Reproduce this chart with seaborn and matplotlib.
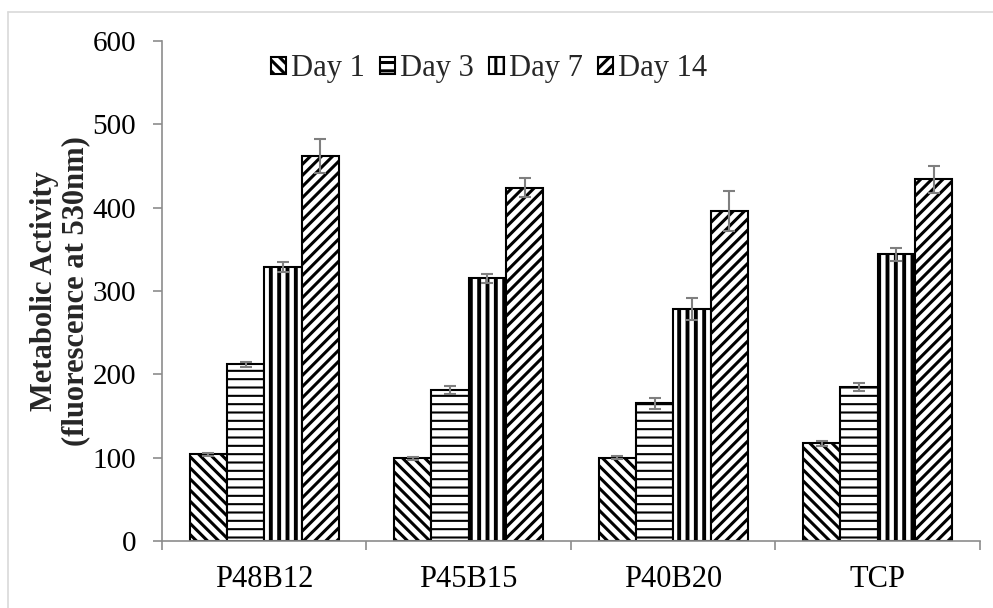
import matplotlib
matplotlib.use('Agg')
import matplotlib.pyplot as plt
from matplotlib.patches import Patch
from matplotlib.lines import Line2D
import seaborn as sns
import pandas as pd
import numpy as np

groups = ["P48B12", "P45B15", "P40B20", "TCP"]
days = ["Day 1", "Day 3", "Day 7", "Day 14"]
day1 = [104, 99, 100, 117]
day3 = [212, 181, 165, 185]
day7 = [329, 315, 278, 344]
day14 = [462, 424, 396, 434]
err1 = [2, 2, 2, 3]
err3 = [3, 5, 7, 5]
err7 = [6, 5, 13, 8]
err14 = [20, 11, 24, 16]

values = [day1, day3, day7, day14]
errors = [err1, err3, err7, err14]
hatches = ["\\\\\\", "--", "||", "///"]
hatch_lw = [2.2, 1.5, 2.8, 2.2]

df = pd.DataFrame({
    "group": [g for d in days for g in groups],
    "day": [d for d in days for g in groups],
    "value": [v for vals in values for v in vals],
})

sns.set_style("white")
plt.rcParams['font.family'] = ['Liberation Serif', 'DejaVu Serif']
plt.rcParams['hatch.linewidth'] = 2.2
plt.rcParams['hatch.color'] = 'black'

fig = plt.figure(figsize=(9.93, 6.08), dpi=100)
ax = fig.add_axes([0.1631, 0.1102, 0.8238, 0.8224])

sns.barplot(data=df, x="group", y="value", hue="day", hue_order=days,
            order=groups, errorbar=None, width=0.73, palette=["white"] * 4,
            edgecolor="black", linewidth=1.5, ax=ax, legend=False)

for container, h, lw, errs in zip(ax.containers, hatches, hatch_lw, errors):
    xs = []
    ys = []
    for bar in container:
        bar.set_hatch(h)
        if hasattr(bar, 'set_hatch_linewidth'):
            bar.set_hatch_linewidth(lw)
        xs.append(bar.get_x() + bar.get_width() / 2)
        ys.append(bar.get_height())
    ax.errorbar(xs, ys, yerr=errs, fmt='none', ecolor='#7f7f7f',
                elinewidth=1.5, capsize=4.3, capthick=1.5)

# legend
handles = []
for h, lw in zip(hatches, hatch_lw):
    p = Patch(facecolor='white', edgecolor='black', hatch=h, linewidth=1.5)
    if hasattr(p, 'set_hatch_linewidth'):
        p.set_hatch_linewidth(lw)
    handles.append(p)
ax.legend(handles, days, loc='center', bbox_to_anchor=(0.40, 0.944),
          ncol=4, frameon=False, fontsize=22, handlelength=0.5,
          handleheight=0.5, handletextpad=0.15, columnspacing=0.5,
          borderpad=0, borderaxespad=0)

ax.set_ylim(0, 600)
ax.set_xlim(-0.5, 3.5)
ax.set_yticks(range(0, 601, 100))
ax.set_xlabel("")
ax.set_ylabel("Metabolic Activity\n(fluorescence at 530nm)", fontsize=22,
              fontweight='bold', labelpad=2, linespacing=1.1)
ax.tick_params(axis='y', labelsize=21, colors='black', left=True, length=6.5,
               color='#8c8c8c', width=1.2, pad=12)
ax.tick_params(axis='x', labelsize=22, colors='black', bottom=False, pad=14)
ax.set_xticks(np.arange(-0.5, 4, 1), minor=True)
ax.tick_params(axis='x', which='minor', bottom=True, length=6.5,
               color='#8c8c8c', width=1.2)

for s in ['top', 'right']:
    ax.spines[s].set_visible(False)
for s in ['left', 'bottom']:
    ax.spines[s].set_color('#8c8c8c')
    ax.spines[s].set_linewidth(1.2)

# outer chart frame (left and top edges visible)
fig.add_artist(Line2D([8 / 993, 8 / 993], [0, 1 - 12 / 608],
                      transform=fig.transFigure, color='#d9d9d9', linewidth=1.2))
fig.add_artist(Line2D([8 / 993, 1], [1 - 12 / 608, 1 - 12 / 608],
                      transform=fig.transFigure, color='#d9d9d9', linewidth=1.2))

fig.savefig("out.png", dpi=100)
